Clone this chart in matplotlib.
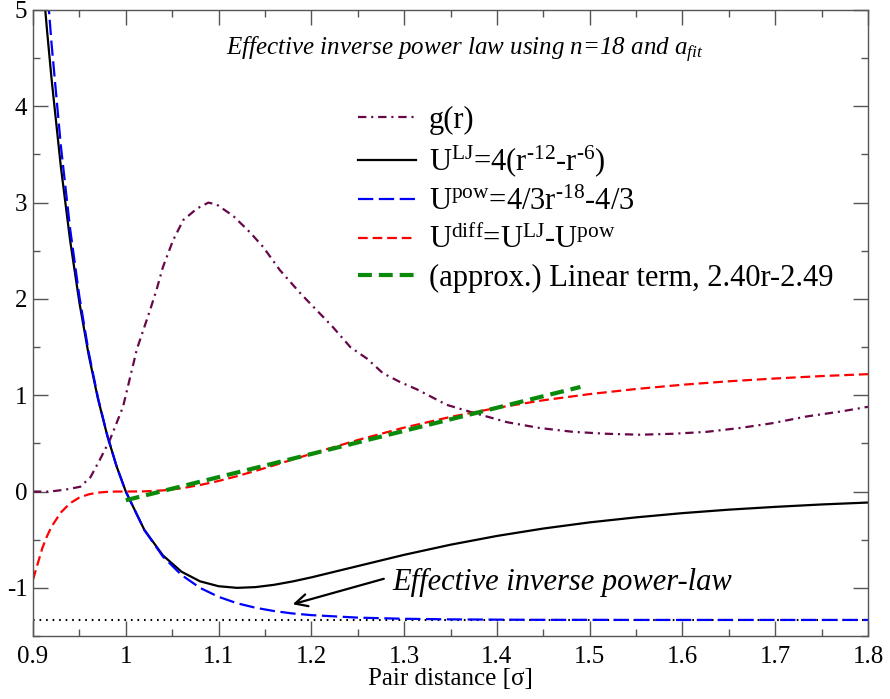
import matplotlib
matplotlib.use("Agg")
import matplotlib.pyplot as plt
from matplotlib.ticker import MultipleLocator, FuncFormatter

plt.rcParams['font.family'] = ['Liberation Serif', 'DejaVu Serif']
plt.rcParams['mathtext.fontset'] = 'custom'
plt.rcParams['mathtext.rm'] = 'Liberation Serif'
plt.rcParams['mathtext.it'] = 'Liberation Serif:italic'
plt.rcParams['axes.unicode_minus'] = False
plt.rcParams['lines.scale_dashes'] = False

# pair distance samples for the potentials
r_pot = [0.90, 0.91, 0.915, 0.92, 0.93, 0.94, 0.95, 0.96, 0.97, 0.98, 0.99,
         1.00, 1.02, 1.04, 1.06, 1.08, 1.10, 1.12, 1.14, 1.16, 1.18, 1.20,
         1.25, 1.30, 1.35, 1.40, 1.45, 1.50, 1.55, 1.60, 1.65, 1.70, 1.75, 1.80]
u_lj = [6.636, 5.360, 4.799, 4.283, 3.373, 2.607, 1.961, 1.418, 0.963, 0.582, 0.264,
        0.0, -0.398, -0.663, -0.832, -0.932, -0.983, -1.000, -0.992, -0.968, -0.933, -0.891,
        -0.774, -0.657, -0.552, -0.461, -0.384, -0.320, -0.268, -0.224, -0.188, -0.159, -0.134, -0.114]
u_pow = [7.550, 5.948, 5.264, 4.647, 3.590, 2.728, 2.023, 1.447, 0.974, 0.585, 0.264,
         0.0, -0.400, -0.675, -0.866, -1.000, -1.093, -1.160, -1.207, -1.241, -1.266, -1.283,
         -1.309, -1.321, -1.327, -1.330, -1.332, -1.332, -1.333, -1.333, -1.333, -1.333, -1.333, -1.333]
u_diff = [-0.914, -0.588, -0.465, -0.364, -0.217, -0.121, -0.062, -0.029, -0.011, -0.003, 0.000,
          0.0, 0.002, 0.012, 0.034, 0.068, 0.110, 0.160, 0.215, 0.273, 0.333, 0.392,
          0.535, 0.664, 0.775, 0.869, 0.948, 1.012, 1.065, 1.109, 1.145, 1.174, 1.199, 1.219]

# radial distribution function
r_g = [0.900, 0.918, 0.935, 0.951, 0.962, 0.972, 0.983, 0.997, 1.012, 1.019, 1.026,
       1.033, 1.040, 1.051, 1.062, 1.077, 1.089, 1.098, 1.116, 1.134, 1.148, 1.166,
       1.188, 1.206, 1.223, 1.242, 1.260, 1.277, 1.295, 1.314, 1.330, 1.346, 1.374,
       1.411, 1.446, 1.482, 1.518, 1.554, 1.590, 1.626, 1.662, 1.697, 1.734, 1.770, 1.800]
g_r = [0.00, 0.00, 0.02, 0.05, 0.15, 0.33, 0.54, 0.88, 1.48, 1.68, 1.88,
       2.09, 2.33, 2.61, 2.82, 2.94, 3.00, 2.98, 2.86, 2.69, 2.54, 2.30,
       2.06, 1.88, 1.71, 1.50, 1.38, 1.23, 1.14, 1.06, 0.98, 0.90, 0.82,
       0.72, 0.66, 0.62, 0.60, 0.59, 0.60, 0.62, 0.66, 0.71, 0.78, 0.83, 0.88]

# linear approximation 2.40r-2.49
r_lin = [1.00, 1.49]
u_lin = [-0.09, 1.086]

pow_limit = -4 / 3

fig = plt.figure(figsize=(8.9, 6.99), dpi=100)
ax = fig.add_axes([0.0371, 0.0901, 0.9382, 0.8956])

ax.axhline(pow_limit, color='black', lw=1.5, ls=(0, (1.2, 3.5)), zorder=1)
ax.plot(r_g, g_r, color='#670748', lw=1.6, dashes=(6, 3.5, 1.5, 3.5), label='g(r)')
ax.plot(r_pot, u_lj, color='black', lw=1.6,
        label=r'U$^{\rm LJ}$=4(r$^{\text{-12}}$-r$^{\text{-6}}$)')
ax.plot(r_pot, u_pow, color='#0000ff', lw=1.6, dashes=(11, 4),
        label=r'U$^{\rm pow}$=4/3r$^{\text{-18}}$-4/3')
ax.plot(r_pot, u_diff, color='#ff0000', lw=1.6, dashes=(7, 3.5),
        label=r'U$^{\rm diff}$=U$^{\rm LJ}$-U$^{\rm pow}$')
ax.plot(r_lin, u_lin, color='#0a8a0a', lw=3, dashes=(10, 5),
        label='(approx.) Linear term, 2.40r-2.49')

ax.set_xlim(0.9, 1.8)
ax.set_ylim(-1.5, 5)
ax.xaxis.set_major_locator(MultipleLocator(0.1))
ax.xaxis.set_minor_locator(MultipleLocator(0.05))
ax.yaxis.set_major_locator(MultipleLocator(1))
ax.yaxis.set_minor_locator(MultipleLocator(0.5))
ax.xaxis.set_major_formatter(FuncFormatter(lambda v, p: '%g' % round(v, 2)))
ax.yaxis.set_major_formatter(FuncFormatter(lambda v, p: '%g' % round(v, 2)))
ax.tick_params(which='both', direction='in', top=True, right=True,
               color='#555555', labelsize=18)
ax.tick_params(which='major', length=11, width=1)
ax.tick_params(which='minor', length=5, width=1)
ax.tick_params(axis='x', pad=7)
ax.tick_params(axis='y', pad=4)
for s in ax.spines.values():
    s.set_color('#555555')
    s.set_linewidth(1)

ax.set_xlabel('Pair distance [σ]', fontsize=18, labelpad=0)

ax.text(1.366, 4.58, r'Effective inverse power law using n=18 and $a_{fit}$',
        style='italic', fontsize=18, ha='center', va='center')

ax.annotate('', xy=(1.177, -1.178), xytext=(1.281, -0.898),
            arrowprops=dict(arrowstyle='->', lw=1.6, color='black', mutation_scale=22))
ax.text(1.287, -0.94, 'Effective inverse power-law', style='italic',
        fontsize=22, ha='left', va='center')

ax.legend(loc='upper left', bbox_to_anchor=(0.375, 0.866), frameon=False,
          fontsize=22, handlelength=1.9, handletextpad=0.4, labelspacing=0.27,
          borderaxespad=0)

fig.savefig('out.png', dpi=100)
